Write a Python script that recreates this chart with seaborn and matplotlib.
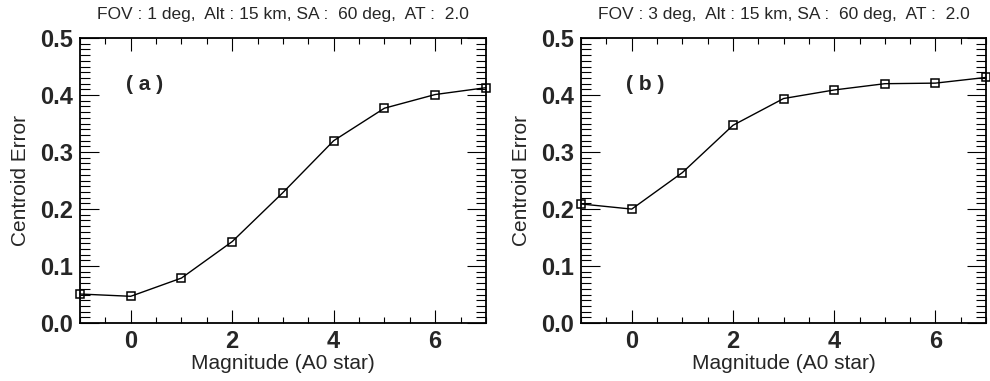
import matplotlib
matplotlib.use("Agg")
import matplotlib.pyplot as plt
from matplotlib.ticker import MultipleLocator
import seaborn as sns
import pandas as pd

# valeurs
magnitude = [-1, 0, 1, 2, 3, 4, 5, 6, 7]
erreur_a = [0.051, 0.047, 0.079, 0.143, 0.229, 0.320, 0.377, 0.401, 0.413]
erreur_b = [0.209, 0.200, 0.264, 0.347, 0.394, 0.409, 0.420, 0.421, 0.431]
titres = ["FOV : 1 deg,  Alt : 15 km, SA :  60 deg,  AT :  2.0",
          "FOV : 3 deg,  Alt : 15 km, SA :  60 deg,  AT :  2.0"]
etiquettes = ["( a )", "( b )"]

sns.set_style("ticks")
plt.rcParams['font.family'] = ['Liberation Sans', 'DejaVu Sans']

fig = plt.figure(figsize=(9.9, 3.81), dpi=100)
positions = [[0.0808, 0.152, 0.410, 0.748], [0.587, 0.152, 0.409, 0.748]]

for pos, y, titre, etiq in zip(positions, [erreur_a, erreur_b], titres, etiquettes):
    ax = fig.add_axes(pos)
    df = pd.DataFrame({'mag': magnitude, 'err': y})
    sns.lineplot(data=df, x='mag', y='err', ax=ax, color='black', linewidth=1,
                 marker='s', markersize=6, markerfacecolor='none',
                 markeredgecolor='black', markeredgewidth=1.1, clip_on=False)
    ax.set_xlim(-1, 7)
    ax.set_ylim(0, 0.5)
    ax.xaxis.set_major_locator(MultipleLocator(2))
    ax.xaxis.set_minor_locator(MultipleLocator(0.5))
    ax.yaxis.set_major_locator(MultipleLocator(0.1))
    ax.yaxis.set_minor_locator(MultipleLocator(0.01))
    ax.yaxis.set_major_formatter(plt.FormatStrFormatter('%.1f'))
    ax.tick_params(axis='both', which='both', direction='in', top=True, right=True,
                   width=0.8, color='black')
    ax.tick_params(axis='y', which='major', length=14, labelsize=17, pad=5)
    ax.tick_params(axis='y', which='minor', length=7)
    ax.tick_params(axis='x', which='major', length=9.5, labelsize=17, pad=5)
    ax.tick_params(axis='x', which='minor', length=4.5)
    for lab in ax.get_xticklabels() + ax.get_yticklabels():
        lab.set_fontweight('bold')
    for s in ax.spines.values():
        s.set_linewidth(1.3)
        s.set_color('black')
    ax.set_xlabel('Magnitude (A0 star)', fontsize=15, labelpad=1)
    ax.set_ylabel('Centroid Error', fontsize=15, labelpad=7)
    ax.set_title(titre, fontsize=12.5, pad=14)
    ax.text(0.27, 0.418, etiq, fontsize=15, fontweight='bold', ha='center', va='center')

fig.savefig('out.png', dpi=100)
